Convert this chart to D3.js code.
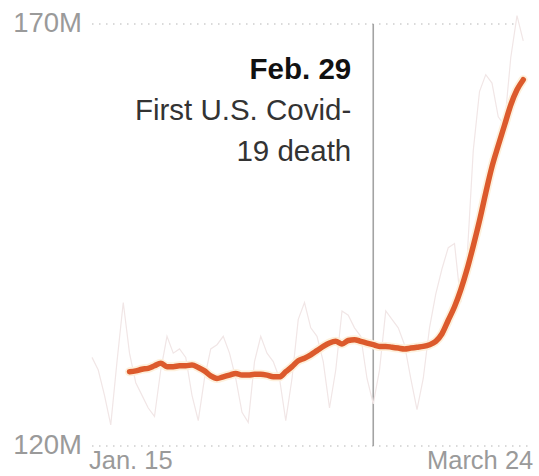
<!DOCTYPE html>
<html>
<head>
<meta charset="utf-8">
<script src="https://cdn.jsdelivr.net/npm/d3@7"></script>
<style>
  html, body { margin: 0; padding: 0; background: #fff; }
  svg { display: block; }
  text { font-family: "Liberation Sans", Arial, sans-serif; }
</style>
</head>
<body>
<svg id="chart" width="539" height="476"></svg>
<script>
// ---- Data (millions) ----
const startDate = "2020-01-15";            // first daily value
const endDate = "2020-03-24";              // last daily value
const yTicks = [120, 170];
const yTickLabels = ["120M", "170M"];
const xTickLabels = ["Jan. 15", "March 24"];
const dailyValues = [
  130.5, 129, 126, 122.5, 130, 137, 131,
  127.5, 126, 124.5, 123.5, 129, 133, 131,
  131.5, 130.5, 126, 123, 128, 131.5, 132,
  133, 131, 128, 124, 122.8, 130, 133,
  131, 130, 128, 123, 128, 135, 137,
  134, 133, 130, 124.5, 129, 136, 135.5,
  134, 133, 128, 125, 129, 136, 135,
  134, 132, 128, 124.3, 128, 134, 138,
  141, 143.5, 144, 137, 142, 155, 162,
  164, 163, 159, 158, 166, 171, 168
];
// 7-day average, starting Jan. 21
const avgStartOffset = 6;
const avgValues = [
  128.8, 128.9, 129.1, 129.2, 129.5, 129.8, 129.4, 129.4, 129.5, 129.5,
  129.6, 129.3, 128.9, 128.3, 128.0, 128.2, 128.4, 128.6, 128.4, 128.4,
  128.5, 128.5, 128.4, 128.2, 128.2, 128.8, 129.4, 130.1, 130.4, 130.8,
  131.3, 131.8, 132.2, 132.4, 132.1, 132.5, 132.6, 132.4, 132.2, 132.0,
  131.8, 131.8, 131.7, 131.6, 131.5, 131.6, 131.7, 131.8, 132.0, 132.4,
  133.3, 134.9, 136.5, 138.5, 140.9, 143.7, 146.7, 150.0, 153.1, 155.6,
  158.0, 160.4, 162.2, 163.4
];
const eventDate = "2020-02-29";
const eventTitle = "Feb. 29";
const eventLines = ["First U.S. Covid-", "19 death"];

// ---- Layout ----
const svg = d3.select("#chart");
const parse = d3.timeParse("%Y-%m-%d");
const t0 = parse(startDate), t1 = parse(endDate);

const x = d3.scaleTime().domain([t0, t1]).range([92, 523.25]);
const y = d3.scaleLinear().domain([120, 170]).range([446, 24]);

const daily = dailyValues.map((v, i) => ({ date: d3.timeDay.offset(t0, i), v }));
const avg = avgValues.map((v, i) => ({ date: d3.timeDay.offset(t0, i + avgStartOffset), v }));

// gridlines
const gridRight = { 120: 533, 170: 519 };
svg.append("g").selectAll("line").data(yTicks).join("line")
  .attr("x1", 92).attr("x2", d => gridRight[d])
  .attr("y1", d => y(d)).attr("y2", d => y(d))
  .attr("stroke", "#b5b5b5").attr("stroke-width", 1.2)
  .attr("stroke-dasharray", "1.5,5.5");

// y labels
svg.append("g").selectAll("text").data(yTicks).join("text")
  .attr("x", 82).attr("y", d => y(d) + 8)
  .attr("text-anchor", "end")
  .attr("font-size", 27.5).attr("fill", "#9a9a9a")
  .text((d, i) => yTickLabels[i]);

// x labels
svg.append("text").attr("x", x(t0) - 3).attr("y", 469)
  .attr("text-anchor", "start").attr("font-size", 25.5).attr("fill", "#9a9a9a")
  .text(xTickLabels[0]);
svg.append("text").attr("x", x(t1) + 10).attr("y", 469)
  .attr("text-anchor", "end").attr("font-size", 25.5).attr("fill", "#9a9a9a")
  .text(xTickLabels[1]);

// event line
const ex = x(parse(eventDate));
svg.append("line")
  .attr("x1", ex).attr("x2", ex).attr("y1", y(170)).attr("y2", y(120))
  .attr("stroke", "#a3a3a3").attr("stroke-width", 1.6);

// daily line
svg.append("path").datum(daily)
  .attr("fill", "none").attr("stroke", "#f1e6e6").attr("stroke-width", 1.2)
  .attr("d", d3.line().x(d => x(d.date)).y(d => y(d.v)));

// average line with halo
const avgLine = d3.line().x(d => x(d.date)).y(d => y(d.v)).curve(d3.curveMonotoneX);
svg.append("path").datum(avg)
  .attr("fill", "none").attr("stroke", "#fdf0dc").attr("stroke-width", 9)
  .attr("stroke-linecap", "round").attr("stroke-linejoin", "round")
  .attr("d", avgLine);
svg.append("path").datum(avg)
  .attr("fill", "none").attr("stroke", "#dc5a2c").attr("stroke-width", 5.5)
  .attr("stroke-linecap", "round").attr("stroke-linejoin", "round")
  .attr("d", avgLine);

// annotation
const ax = ex - 22;
svg.append("text").attr("x", ax).attr("y", 79)
  .attr("text-anchor", "end").attr("font-size", 29.5).attr("font-weight", "bold")
  .attr("fill", "#111").text(eventTitle);
eventLines.forEach((s, i) => {
  svg.append("text").attr("x", ax).attr("y", 120 + i * 41)
    .attr("text-anchor", "end").attr("font-size", 29.5)
    .attr("fill", "#333").text(s);
});
</script>
</body>
</html>
